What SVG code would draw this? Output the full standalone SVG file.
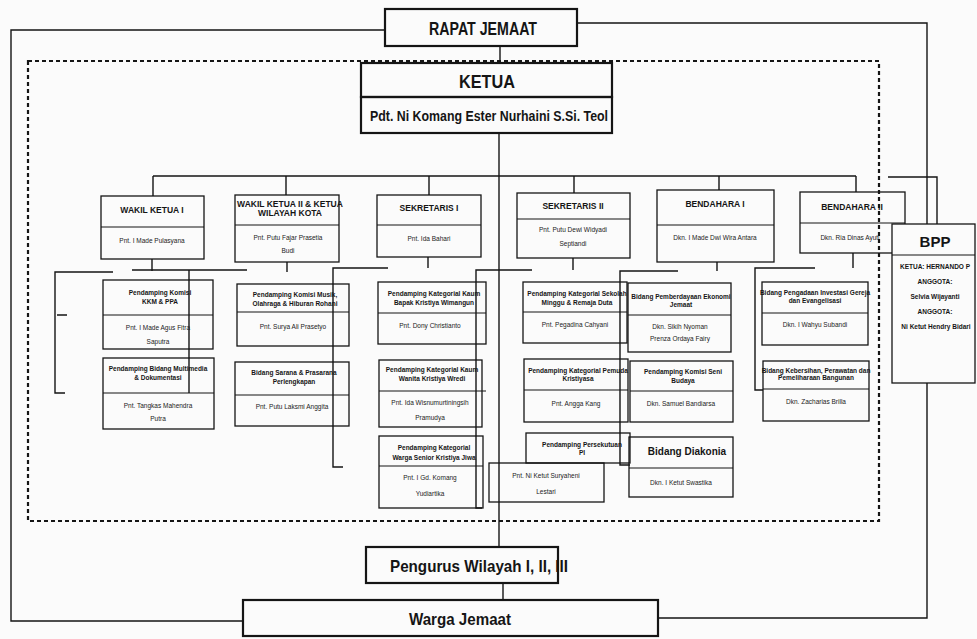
<svg xmlns="http://www.w3.org/2000/svg" width="977" height="639" viewBox="0 0 977 639">
<style>
.bg{fill:#fbfbfb}
.box{fill:none;stroke:#151515;stroke-width:1.3}
.wbox{fill:#fbfbfb;stroke:#151515;stroke-width:1.3}
.mbox{fill:none;stroke:#151515;stroke-width:2.2}
.sep{stroke:#151515;stroke-width:1.2}
.ln{stroke:#151515;stroke-width:1.4;fill:none}
.dash{stroke:#151515;stroke-width:2.2;stroke-dasharray:4 3;fill:none}
.big{font-family:"Liberation Sans Narrow","Liberation Sans",sans-serif;font-weight:bold;text-anchor:middle;fill:#151515}
.hd{font-family:"Liberation Sans Narrow","Liberation Sans",sans-serif;font-weight:bold;font-size:8.5px;text-anchor:middle;fill:#151515}
.ct{font-family:"Liberation Sans Narrow","Liberation Sans",sans-serif;font-weight:bold;font-size:6.5px;text-anchor:middle;fill:#151515}
.nm{font-family:"Liberation Sans",sans-serif;font-size:6.5px;text-anchor:middle;fill:#222}
</style>
<rect class="bg" x="0" y="0" width="977" height="639"/>

<g id="connectors">
  <path class="ln" d="M385,30 H11 V621 H243"/>
  <path class="ln" d="M577,23 H927 V618 H658"/>
  <rect class="dash" x="28" y="61" width="851" height="460"/>
  <path class="ln" d="M500,46 V63"/>
  <path class="ln" d="M499,133 V547"/>
  <path class="ln" d="M503,583 V600"/>
  <path class="ln" d="M153,176 H856"/>
  <path class="ln" d="M153,176 V196 M286,176 V195 M429,176 V195 M574,176 V193 M719,176 V190 M856,176 V192"/>
  <path class="ln" d="M888,177 H937 V224"/>
  <path class="ln" d="M113,272 H55 V393 H65 M57,315 H67 M152,259 V271"/>
  <path class="ln" d="M132,270 H247 M189,270 V393 M287,262 V272"/>
  <path class="ln" d="M388,268 H333 V467 H343 M428,257 V268"/>
  <path class="ln" d="M532,270 H476 V508 H482 M573,258 V270"/>
  <path class="ln" d="M678,271 H620 V465 H630 M717,262 V271"/>
  <path class="ln" d="M815,268 H755 V390 H763 M853,253 V268"/>
</g>

<g id="n-rapat">
  <rect class="mbox" x="385" y="9" width="192" height="37"/>
  <text class="big" x="483" y="35" font-size="19" textLength="108" lengthAdjust="spacingAndGlyphs">RAPAT JEMAAT</text>
</g>
<g id="n-ketua">
  <rect class="mbox" x="361" y="63" width="251" height="34"/>
  <rect class="mbox" x="361" y="97" width="251" height="36"/>
  <text class="big" x="487" y="88" font-size="18" textLength="56" lengthAdjust="spacingAndGlyphs">KETUA</text>
  <text class="big" x="489" y="121" font-size="14" textLength="238" lengthAdjust="spacingAndGlyphs">Pdt. Ni Komang Ester Nurhaini S.Si. Teol</text>
</g>
<g id="n-pengurus">
  <rect class="mbox" x="366" y="547" width="192" height="36"/>
  <text class="big" x="479" y="572" font-size="17" textLength="178" lengthAdjust="spacingAndGlyphs">Pengurus Wilayah I, II, III</text>
</g>
<g id="n-warga">
  <rect class="mbox" x="243" y="600" width="415" height="36"/>
  <text class="big" x="460" y="625" font-size="17" textLength="102" lengthAdjust="spacingAndGlyphs">Warga Jemaat</text>
</g>

<g id="n-wakil1">
  <rect class="box" x="101" y="196" width="103" height="63"/>
  <line class="sep" x1="101" y1="227" x2="204" y2="227"/>
  <text class="hd" x="152" y="213">WAKIL KETUA I</text>
  <text class="nm" x="152" y="243">Pnt. I Made Pulasyana</text>
</g>
<g id="n-wakil2">
  <rect class="box" x="235" y="195" width="104" height="67"/>
  <line class="sep" x1="235" y1="225" x2="339" y2="225"/>
  <text class="hd" x="290" y="207" font-size="7.5">WAKIL KETUA II &amp; KETUA</text>
  <text class="hd" x="290" y="216" font-size="7.5">WILAYAH KOTA</text>
  <text class="nm" x="288" y="240">Pnt. Putu Fajar Prasetia</text>
  <text class="nm" x="288" y="253">Budi</text>
</g>
<g id="n-sekretaris1">
  <rect class="box" x="377" y="195" width="104" height="62"/>
  <line class="sep" x1="377" y1="225" x2="481" y2="225"/>
  <text class="hd" x="429" y="211">SEKRETARIS I</text>
  <text class="nm" x="429" y="241">Pnt. Ida Bahari</text>
</g>
<g id="n-sekretaris2">
  <rect class="box" x="517" y="193" width="113" height="65"/>
  <line class="sep" x1="517" y1="219" x2="630" y2="219"/>
  <text class="hd" x="573" y="209">SEKRETARIS II</text>
  <text class="nm" x="573" y="232">Pnt. Putu Dewi Widyadi</text>
  <text class="nm" x="573" y="246">Septiandi</text>
</g>
<g id="n-bendahara1">
  <rect class="box" x="657" y="190" width="117" height="72"/>
  <line class="sep" x1="657" y1="225" x2="774" y2="225"/>
  <text class="hd" x="715" y="207">BENDAHARA I</text>
  <text class="nm" x="715" y="240">Dkn. I Made Dwi Wira Antara</text>
</g>
<g id="n-bendahara2">
  <rect class="box" x="800" y="192" width="105" height="61"/>
  <line class="sep" x1="800" y1="223" x2="905" y2="223"/>
  <text class="hd" x="852" y="210">BENDAHARA II</text>
  <text class="nm" x="850" y="240">Dkn. Ria Dinas Ayuti</text>
</g>

<g id="n-c1a">
  <rect class="box" x="103" y="280" width="110" height="69"/>
  <line class="sep" x1="103" y1="315" x2="213" y2="315"/>
  <text class="ct" x="160" y="295">Pendamping Komisi</text>
  <text class="ct" x="160" y="304">KKM &amp; PPA</text>
  <text class="nm" x="158" y="330">Pnt. I Made Agus Fitra</text>
  <text class="nm" x="158" y="344">Saputra</text>
</g>
<g id="n-c1b">
  <rect class="box" x="103" y="358" width="111" height="71"/>
  <line class="sep" x1="103" y1="393" x2="214" y2="393"/>
  <text class="ct" x="158" y="371">Pendamping Bidang Multimedia</text>
  <text class="ct" x="158" y="380">&amp; Dokumentasi</text>
  <text class="nm" x="158" y="408">Pnt. Tangkas Mahendra</text>
  <text class="nm" x="158" y="421">Putra</text>
</g>
<g id="n-c2a">
  <rect class="box" x="237" y="284" width="112" height="62"/>
  <line class="sep" x1="237" y1="312" x2="349" y2="312"/>
  <text class="ct" x="295" y="297">Pendamping Komisi Musik,</text>
  <text class="ct" x="295" y="306">Olahraga &amp; Hiburan Rohani</text>
  <text class="nm" x="293" y="329">Pnt. Surya Ali Prasetyo</text>
</g>
<g id="n-c2b">
  <rect class="box" x="235" y="362" width="114" height="64"/>
  <line class="sep" x1="235" y1="395" x2="349" y2="395"/>
  <text class="ct" x="294" y="375">Bidang Sarana &amp; Prasarana</text>
  <text class="ct" x="294" y="384">Perlengkapan</text>
  <text class="nm" x="292" y="409">Pnt. Putu Laksmi Anggita</text>
</g>
<g id="n-c3a">
  <rect class="box" x="378" y="282" width="108" height="62"/>
  <line class="sep" x1="378" y1="313" x2="486" y2="313"/>
  <text class="ct" x="434" y="296">Pendamping Kategorial Kaum</text>
  <text class="ct" x="434" y="305">Bapak Kristiya Wimangun</text>
  <text class="nm" x="430" y="328">Pnt. Dony Christianto</text>
</g>
<g id="n-c3b">
  <rect class="box" x="379" y="360" width="103" height="67"/>
  <line class="sep" x1="379" y1="391" x2="486" y2="391"/>
  <text class="ct" x="432" y="372">Pendamping Kategorial Kaum</text>
  <text class="ct" x="432" y="381">Wanita Kristiya Wredi</text>
  <text class="nm" x="430" y="405">Pnt. Ida Wisnumurtiningsih</text>
  <text class="nm" x="430" y="420">Pramudya</text>
</g>
<g id="n-c3c">
  <rect class="box" x="379" y="436" width="104" height="72"/>
  <line class="sep" x1="379" y1="466" x2="483" y2="466"/>
  <text class="ct" x="434" y="450">Pendamping Kategorial</text>
  <text class="ct" x="434" y="460">Warga Senior Kristiya Jiwa</text>
  <text class="nm" x="430" y="480">Pnt. I Gd. Komang</text>
  <text class="nm" x="430" y="496">Yudiartika</text>
</g>
<g id="n-c4a">
  <rect class="box" x="523" y="282" width="104" height="61"/>
  <line class="sep" x1="523" y1="312" x2="627" y2="312"/>
  <text class="ct" x="577" y="296">Pendamping Kategorial Sekolah</text>
  <text class="ct" x="577" y="305">Minggu &amp; Remaja Duta</text>
  <text class="nm" x="575" y="327">Pnt. Pegadina Cahyani</text>
</g>
<g id="n-c4b">
  <rect class="box" x="524" y="359" width="104" height="63"/>
  <line class="sep" x1="524" y1="390" x2="628" y2="390"/>
  <text class="ct" x="578" y="373">Pendamping Kategorial Pemuda</text>
  <text class="ct" x="578" y="381">Kristiyasa</text>
  <text class="nm" x="576" y="406">Pnt. Angga Kang</text>
</g>
<g id="n-c4c">
  <rect class="box" x="526" y="433" width="104" height="30"/>
  <rect class="box" x="489" y="463" width="115" height="39"/>
  <text class="ct" x="582" y="447">Pendamping Persekutuan</text>
  <text class="ct" x="582" y="455">PI</text>
  <text class="nm" x="546" y="478">Pnt. Ni Ketut Suryaheni</text>
  <text class="nm" x="546" y="494">Lestari</text>
</g>
<g id="n-c5a">
  <rect class="box" x="628" y="283" width="103" height="69"/>
  <line class="sep" x1="628" y1="315" x2="731" y2="315"/>
  <text class="ct" x="681" y="299">Bidang Pemberdayaan Ekonomi</text>
  <text class="ct" x="681" y="307">Jemaat</text>
  <text class="nm" x="680" y="329">Dkn. Sikih Nyoman</text>
  <text class="nm" x="680" y="341">Prenza Ordaya Fairy</text>
</g>
<g id="n-c5b">
  <rect class="box" x="630" y="361" width="103" height="61"/>
  <line class="sep" x1="630" y1="391" x2="733" y2="391"/>
  <text class="ct" x="683" y="374">Pendamping Komisi Seni</text>
  <text class="ct" x="683" y="383">Budaya</text>
  <text class="nm" x="681" y="406">Dkn. Samuel Bandiarsa</text>
</g>
<g id="n-c5c">
  <rect class="box" x="629" y="437" width="104" height="60"/>
  <line class="sep" x1="629" y1="468" x2="733" y2="468"/>
  <text class="big" x="687" y="455" font-size="10">Bidang Diakonia</text>
  <text class="nm" x="681" y="485">Dkn. I Ketut Swastika</text>
</g>
<g id="n-c6a">
  <rect class="box" x="762" y="282" width="106" height="63"/>
  <line class="sep" x1="762" y1="313" x2="868" y2="313"/>
  <text class="ct" x="815" y="295" font-size="5.6">Bidang Pengadaan Investasi Gereja</text>
  <text class="ct" x="815" y="303" font-size="5.6">dan Evangelisasi</text>
  <text class="nm" x="815" y="327">Dkn. I Wahyu Subandi</text>
</g>
<g id="n-c6b">
  <rect class="box" x="763" y="361" width="106" height="60"/>
  <line class="sep" x1="763" y1="389" x2="869" y2="389"/>
  <text class="ct" x="816" y="373" font-size="5.6">Bidang Kebersihan, Perawatan dan</text>
  <text class="ct" x="816" y="380" font-size="5.6">Pemeliharaan Bangunan</text>
  <text class="nm" x="816" y="404">Dkn. Zacharias Brilla</text>
</g>

<g id="n-bpp">
  <rect class="wbox" x="892" y="224" width="83" height="159"/>
  <line class="sep" x1="892" y1="255" x2="975" y2="255"/>
  <text class="big" x="935" y="247" font-size="15">BPP</text>
  <text class="ct" x="935" y="269" font-size="5.6">KETUA: HERNANDO P</text>
  <text class="ct" x="935" y="284" font-size="5.6">ANGGOTA:</text>
  <text class="ct" x="935" y="299" font-size="5.6">Selvia Wijayanti</text>
  <text class="ct" x="935" y="314" font-size="5.6">ANGGOTA:</text>
  <text class="ct" x="936" y="329" font-size="5.6">Ni Ketut Hendry Bidari</text>
</g>
</svg>
